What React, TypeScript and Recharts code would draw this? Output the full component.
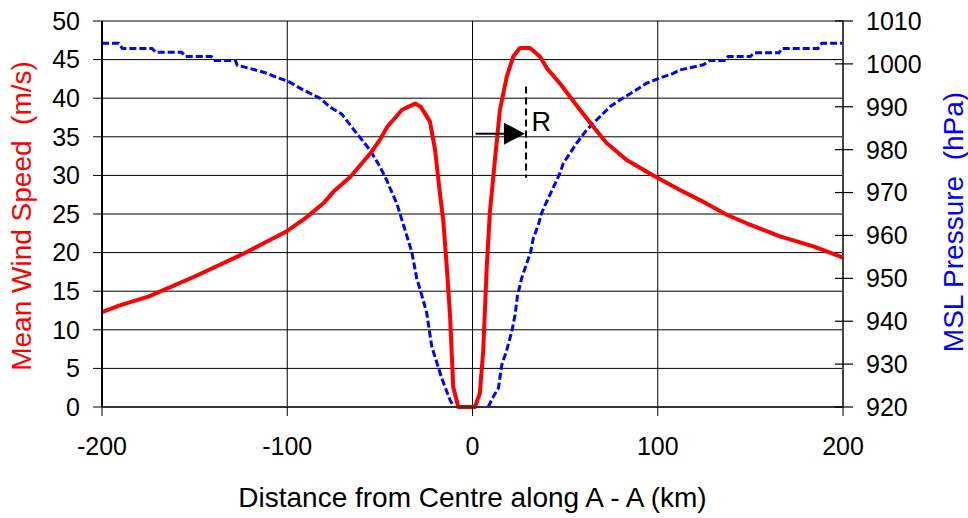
import React from 'react';
import {
  LineChart,
  Line,
  XAxis,
  YAxis,
  CartesianGrid,
  ReferenceLine,
  ReferenceDot,
  Label,
} from 'recharts';

// Wind speed profile across the storm (km from centre, m/s)
const windDistance = [
  -200, -190, -175, -150, -125, -100, -90, -80, -75, -66, -55, -50, -46, -38, -31, -28, -23,
  -20.2, -17.5, -15.8, -13.9, -12.1, -10.4, -7.7, 1.3, 4, 5.8, 7.7, 9.4, 12.1, 14.8, 18.5, 22,
  25.6, 31, 36.4, 40.1, 47.2, 58, 65.2, 72.4, 83.2, 97.6, 112, 122.8, 137.2, 148, 166, 184,
  198.4, 200,
];
const windSpeed = [
  12.3, 13.2, 14.3, 16.9, 19.7, 22.8, 24.5, 26.5, 27.9, 29.8, 32.9, 34.6, 36.3, 38.5, 39.3, 38.9,
  37.0, 33.3, 27.5, 24.2, 18.2, 11.7, 2.6, 0, 0, 1.8, 7.4, 18.2, 25.3, 32.0, 38.5, 42.8, 45.4,
  46.5, 46.5, 45.4, 43.9, 41.9, 38.5, 36.3, 34.2, 32.0, 30.0, 28.1, 26.8, 24.9, 23.8, 22.1, 20.8,
  19.5, 19.3,
];

// Mean sea-level pressure profile (km from centre, hPa)
const pressureDistance = [
  -200, -191, -189, -173, -171, -157, -155, -141, -139, -128, -127, -118, -111, -106, -99.4,
  -91.3, -82.3, -76.9, -70.6, -62.5, -55.3, -49.9, -46.3, -44.5, -40.9, -39.1, -32.8, -30.1,
  -27.4, -24.7, -22, -16.6, -12.1, -10, 0, 8.5, 11.2, 14, 15.8, 18.5, 21.2, 23, 24.2, 26.5, 29.3,
  31.4, 32.8, 35.5, 37.3, 39.1, 47.2, 49, 56.2, 61.6, 68.8, 74.2, 79.6, 86.8, 94, 101.2, 108.4,
  112, 124.6, 128.2, 136, 138, 150, 152, 165.5, 167, 186.5, 188.5, 200,
];
const pressureValue: (number | null)[] = [
  1004.8, 1004.8, 1003.6, 1003.6, 1002.7, 1002.7, 1001.7, 1001.7, 1000.8, 1000.8, 999.7, 998.7,
  997.8, 996.9, 995.9, 993.9, 992.0, 989.9, 988.3, 983.8, 979.9, 976.0, 972.9, 971.0, 967.5,
  965.0, 956.2, 950.0, 946.1, 941.9, 934.1, 926.7, 921.6, 920, null, 920, 922.4, 924.4, 929.8,
  933.3, 937.6, 941.5, 945.7, 950.0, 953.5, 956.2, 959.3, 962.4, 965.2, 967.0, 974.5, 976.8,
  981.5, 984.6, 987.7, 990.0, 991.6, 993.5, 995.5, 996.7, 997.8, 998.6, 999.8, 1000.8, 1000.8,
  1001.7, 1001.7, 1002.6, 1002.6, 1003.6, 1003.6, 1004.8, 1004.8,
];

const distanceTicks = [-200, -100, 0, 100, 200];
const speedTicks = [0, 5, 10, 15, 20, 25, 30, 35, 40, 45, 50];
const pressureTicks = [920, 930, 940, 950, 960, 970, 980, 990, 1000, 1010];

// Radius of maximum winds marker
const arrowStart = { d: 1.7, speed: 35.4 };
const arrowTip = { d: 28.3, speed: 35.4 };
const radiusLine = { d: 28.9, top: 41.5, bottom: 29.7 };
const radiusLabel = { d: 31.8, speed: 36.9, text: 'R' };

const windData = windDistance.map((d, i) => ({ d, speed: windSpeed[i] }));
const pressureData = pressureDistance.map((d, i) => ({ d, pressure: pressureValue[i] }));

const FONT = '"Liberation Sans", Arial, sans-serif';
const TICK_FONT = 25;
const TITLE_FONT = 28;

const RightTick = (props: any) => {
  const { x, y, payload } = props;
  const axisX = x - 23;
  return (
    <g>
      <line x1={axisX - 8} x2={axisX + 10} y1={y} y2={y} stroke="#000" strokeWidth={1.2} />
      <text x={x} y={y} dy="0.355em" textAnchor="start" fill="#000" fontSize={TICK_FONT} fontFamily={FONT}>
        {payload.value}
      </text>
    </g>
  );
};

const ArrowShape = (props: any) => {
  const { x1, y1, x2 } = props;
  const head = 21;
  return (
    <g>
      <line x1={x1} y1={y1} x2={x2 - head} y2={y1} stroke="#000" strokeWidth={2} />
      <polygon points={`${x2 - head},${y1 - 11} ${x2},${y1} ${x2 - head},${y1 + 11}`} fill="#000" />
    </g>
  );
};

export default function App() {
  return (
    <div style={{ position: 'absolute', left: 0, top: 0, background: '#fff' }}>
      <LineChart
        width={968}
        height={518}
        margin={{ top: 21, right: 0, bottom: 0, left: 0 }}
        style={{ fontFamily: FONT }}
      >
        <CartesianGrid
          yAxisId="wind"
          stroke="#000"
          strokeWidth={1}
          horizontalValues={speedTicks}
          verticalValues={distanceTicks}
        />
        <XAxis
          dataKey="d"
          type="number"
          domain={[-200, 200]}
          ticks={distanceTicks}
          allowDuplicatedCategory={false}
          height={111}
          tickSize={9}
          tickMargin={21}
          axisLine={{ stroke: '#333', strokeWidth: 2 }}
          tickLine={{ stroke: '#000' }}
          tick={{ fill: '#000', fontSize: TICK_FONT, fontFamily: FONT }}
        >
          <Label
            content={({ viewBox }: any) => (
              <text
                x={viewBox.x + viewBox.width / 2}
                y={viewBox.y + 90}
                textAnchor="middle"
                dominantBaseline="central"
                fill="#000"
                fontSize={TITLE_FONT}
                fontFamily={FONT}
              >
                Distance from Centre along A - A (km)
              </text>
            )}
          />
        </XAxis>
        <YAxis
          yAxisId="wind"
          orientation="left"
          type="number"
          domain={[0, 50]}
          ticks={speedTicks}
          width={102}
          tickSize={9}
          tickMargin={13}
          axisLine={{ stroke: '#000', strokeWidth: 2 }}
          tickLine={{ stroke: '#000' }}
          tick={{ fill: '#000', fontSize: TICK_FONT, fontFamily: FONT }}
        >
          <Label
            content={({ viewBox }: any) => (
              <text
                transform={`translate(${viewBox.x + 21},${viewBox.y + viewBox.height / 2 + 2}) rotate(-90)`}
                textAnchor="middle"
                dominantBaseline="central"
                fill="#ff0000"
                fontSize={TITLE_FONT}
                fontFamily={FONT}
                style={{ whiteSpace: 'pre' }}
              >
                {'Mean Wind Speed  (m/s)'}
              </text>
            )}
          />
        </YAxis>
        <YAxis
          yAxisId="pressure"
          orientation="right"
          type="number"
          domain={[920, 1010]}
          ticks={pressureTicks}
          width={125}
          tickSize={10}
          tickMargin={13}
          axisLine={{ stroke: '#444', strokeWidth: 2 }}
          tickLine={false}
          tick={<RightTick />}
        >
          <Label
            content={({ viewBox }: any) => (
              <text
                transform={`translate(${viewBox.x + 110},${viewBox.y + viewBox.height / 2 + 8}) rotate(-90)`}
                textAnchor="middle"
                dominantBaseline="central"
                fill="#0000ff"
                fontSize={TITLE_FONT}
                fontFamily={FONT}
                style={{ whiteSpace: 'pre' }}
              >
                {'MSL Pressure  (hPa)'}
              </text>
            )}
          />
        </YAxis>

        <Line
          yAxisId="pressure"
          data={pressureData}
          dataKey="pressure"
          type="linear"
          stroke="#0000ff"
          strokeWidth={3}
          strokeDasharray="7 3"
          dot={false}
          activeDot={false}
          connectNulls={false}
          isAnimationActive={false}
        />
        <Line
          yAxisId="wind"
          data={windData}
          dataKey="speed"
          type="linear"
          stroke="#ff0000"
          strokeWidth={4}
          strokeLinejoin="round"
          dot={false}
          activeDot={false}
          isAnimationActive={false}
        />

        <ReferenceLine
          yAxisId="wind"
          segment={[
            { x: arrowStart.d, y: arrowStart.speed },
            { x: arrowTip.d, y: arrowTip.speed },
          ]}
          shape={<ArrowShape />}
        />
        <ReferenceLine
          yAxisId="wind"
          segment={[
            { x: radiusLine.d, y: radiusLine.top },
            { x: radiusLine.d, y: radiusLine.bottom },
          ]}
          stroke="#000"
          strokeWidth={2}
          strokeDasharray="7 4"
        />
        <ReferenceDot
          yAxisId="wind"
          x={radiusLabel.d}
          y={radiusLabel.speed}
          r={0}
          shape={(p: any) => (
            <text
              x={p.cx}
              y={p.cy}
              dominantBaseline="central"
              textAnchor="start"
              fill="#000"
              fontSize={27}
              fontFamily={FONT}
            >
              {radiusLabel.text}
            </text>
          )}
        />
      </LineChart>
    </div>
  );
}
